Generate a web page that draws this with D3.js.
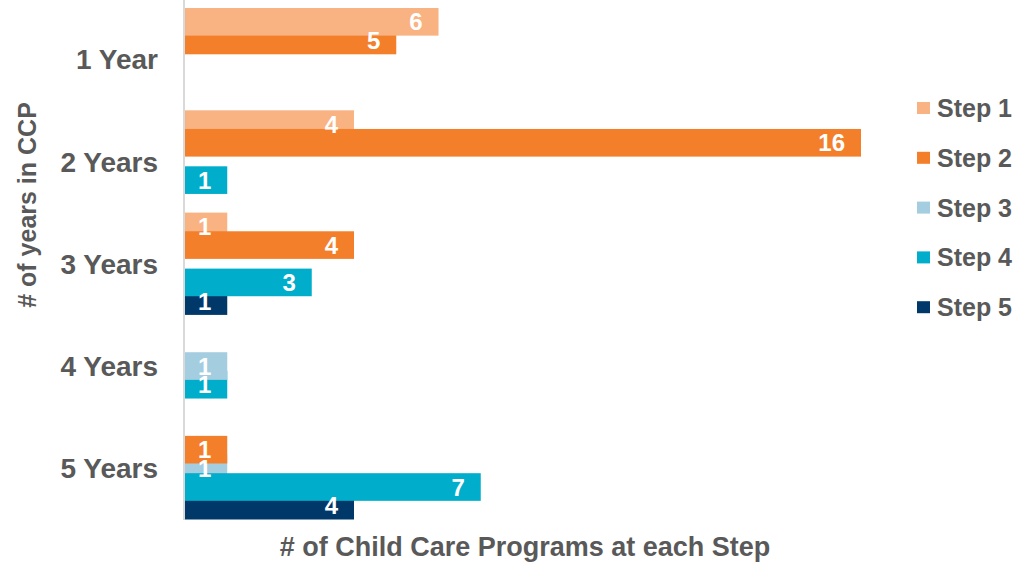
<!DOCTYPE html>
<html>
<head>
<meta charset="utf-8">
<script src="https://cdn.jsdelivr.net/npm/d3@7"></script>
<style>
  body { margin: 0; background: #fff; }
  text { font-family: Arial, "Liberation Sans", sans-serif; font-weight: bold; }
</style>
</head>
<body>
<svg id="chart" width="1020" height="568"></svg>
<script>
// data
var categories = ["1 Year", "2 Years", "3 Years", "4 Years", "5 Years"];
var seriesNames = ["Step 1", "Step 2", "Step 3", "Step 4", "Step 5"];
var step1 = [6, 4, 1, 0, 0];
var step2 = [5, 16, 4, 0, 1];
var step3 = [0, 0, 0, 1, 1];
var step4 = [0, 1, 3, 1, 7];
var step5 = [0, 0, 1, 0, 4];
var colors = ["#f9b282", "#f47f2b", "#a4cde0", "#00adca", "#00386a"];

var allSeries = [step1, step2, step3, step4, step5];

var svg = d3.select("#chart");

var x = d3.scaleLinear().domain([0, 16]).range([185, 861]);
var y = d3.scaleBand().domain(categories).range([8, 519.5]).padding(0);

// bars overlap: step between series smaller than bar height
var slot = y.bandwidth() / (4 + 1.48);
var barH = slot * 1.48;

var bars = [];
categories.forEach(function(c, ci){
  allSeries.forEach(function(s, si){
    if (s[ci] > 0) bars.push({cat: c, s: si, v: s[ci]});
  });
});
// larger values drawn on top, ties: upper series on top
bars.sort(function(a, b){
  if (a.v != b.v) return a.v - b.v;
  return b.s - a.s;
});

svg.append("line")
  .attr("x1", 184).attr("x2", 184)
  .attr("y1", 0).attr("y2", 520)
  .attr("stroke", "#d9d9d9")
  .attr("stroke-width", 2);

svg.append("g").selectAll("rect")
  .data(bars)
  .enter().append("rect")
  .attr("x", x(0))
  .attr("y", function(d){ return y(d.cat) + d.s * slot; })
  .attr("width", function(d){ return x(d.v) - x(0); })
  .attr("height", barH)
  .attr("fill", function(d){ return colors[d.s]; });

svg.append("g").selectAll("text")
  .data(bars)
  .enter().append("text")
  .attr("x", function(d){ return x(d.v) - 16; })
  .attr("y", function(d){ return y(d.cat) + d.s * slot + barH / 2; })
  .attr("dy", "0.36em")
  .attr("text-anchor", "end")
  .attr("fill", "#fff")
  .style("font-size", "24px")
  .text(function(d){ return d.v; });

// category labels
svg.append("g").selectAll("text")
  .data(categories)
  .enter().append("text")
  .attr("x", 158)
  .attr("y", function(d){ return y(d) + y.bandwidth() / 2; })
  .attr("dy", "0.36em")
  .attr("text-anchor", "end")
  .attr("fill", "#595959")
  .style("font-size", "28px")
  .text(function(d){ return d; });

// axis titles
svg.append("text")
  .attr("transform", "translate(36,205) rotate(-90)")
  .attr("text-anchor", "middle")
  .attr("fill", "#595959")
  .style("font-size", "25px")
  .text("# of years in CCP");

svg.append("text")
  .attr("x", 525)
  .attr("y", 556)
  .attr("text-anchor", "middle")
  .attr("fill", "#595959")
  .style("font-size", "27px")
  .text("# of Child Care Programs at each Step");

// legend
var legend = svg.append("g").selectAll("g")
  .data(seriesNames)
  .enter().append("g")
  .attr("transform", function(d, i){ return "translate(917," + (108 + i * 49.8) + ")"; });

legend.append("rect")
  .attr("x", 0).attr("y", -6)
  .attr("width", 13).attr("height", 12)
  .attr("fill", function(d, i){ return colors[i]; });

legend.append("text")
  .attr("x", 20)
  .attr("dy", "0.36em")
  .attr("fill", "#595959")
  .style("font-size", "25px")
  .text(function(d){ return d; });
</script>
</body>
</html>
